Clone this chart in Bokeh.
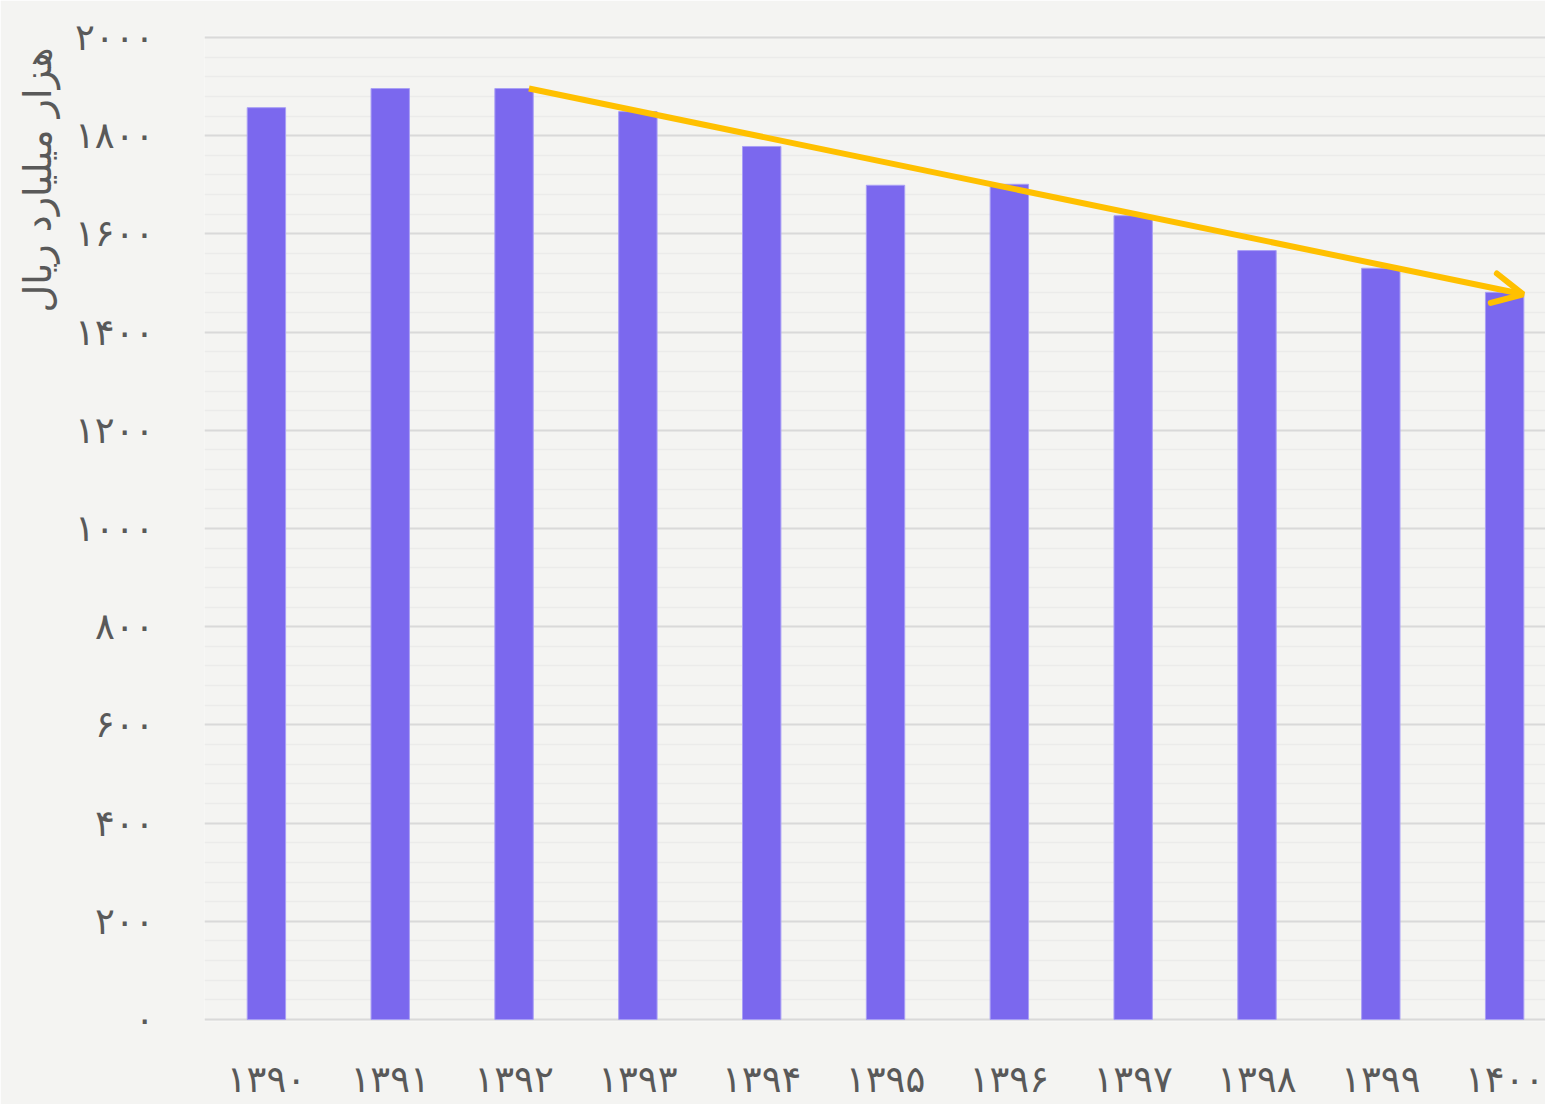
from bokeh.plotting import figure
from bokeh.models import (Range1d, FixedTicker, Title, Arrow, OpenHead, ColumnDataSource)
from bokeh.embed import file_html
from bokeh.resources import INLINE

# ---- data ----
years = ["۱۳۹۰", "۱۳۹۱", "۱۳۹۲", "۱۳۹۳", "۱۳۹۴", "۱۳۹۵", "۱۳۹۶", "۱۳۹۷", "۱۳۹۸", "۱۳۹۹", "۱۴۰۰"]
values = [1857, 1896, 1896, 1849, 1778, 1699, 1701, 1637, 1566, 1530, 1481]
y_ticks = [0, 200, 400, 600, 800, 1000, 1200, 1400, 1600, 1800, 2000]
y_tick_labels = ["۰", "۲۰۰", "۴۰۰", "۶۰۰", "۸۰۰", "۱۰۰۰", "۱۲۰۰", "۱۴۰۰", "۱۶۰۰", "۱۸۰۰", "۲۰۰۰"]
y_label = "هزار میلیارد ریال"
trend_from = 2   # index of year 1392
trend_to = 10    # index of year 1400

FONT = "DejaVu Sans"
BG = "#f4f4f2"
TXT = "#595959"

idx = list(range(len(years)))
src = ColumnDataSource(dict(x=idx, top=values))

p = figure(width=1545, height=1104, output_backend="svg", toolbar_location=None,
           x_range=Range1d(-0.5, 10.33), y_range=Range1d(-4, 2004),
           min_border_left=204, min_border_right=0, min_border_top=35, min_border_bottom=83)
p.background_fill_color = BG
p.border_fill_color = BG
p.outline_line_color = None

p.vbar(x="x", top="top", width=0.31, bottom=0, source=src,
       fill_color="#7b68ee", line_color="#a99ff5", line_width=1)

# trend arrow
p.add_layout(Arrow(x_start=trend_from + 0.12, y_start=values[trend_from],
                   x_end=trend_to + 0.15, y_end=values[trend_to] - 4,
                   line_color="#ffc000", line_width=6, line_cap="butt",
                   end=OpenHead(size=30, line_color="#ffc000", line_width=6, line_cap="round")))

# axes
p.xaxis.ticker = FixedTicker(ticks=idx)
p.xaxis.major_label_overrides = {i: y for i, y in zip(idx, years)}
p.yaxis.ticker = FixedTicker(ticks=y_ticks, minor_ticks=list(range(0, 2001, 40)))
p.yaxis.major_label_overrides = {t: l for t, l in zip(y_ticks, y_tick_labels)}
for ax in (p.xaxis, p.yaxis):
    ax.axis_line_color = None
    ax.major_tick_line_color = None
    ax.minor_tick_line_color = None
    ax.major_label_text_font = FONT
    ax.major_label_text_font_size = "37px"
    ax.major_label_text_color = TXT
p.xaxis.major_label_standoff = 30
p.yaxis.major_label_standoff = 44

p.xgrid.grid_line_color = None
p.ygrid.grid_line_color = "#d9d9d9"
p.ygrid.grid_line_width = 2
p.ygrid.minor_grid_line_color = "#ebebea"
p.ygrid.minor_grid_line_width = 1.5

t = Title(text=y_label, align="right", text_font=FONT, text_font_size="38px",
          text_color=TXT, text_font_style="normal", offset=12, standoff=26)
p.add_layout(t, "left")

open("out.html", "w").write(file_html(p, INLINE))
